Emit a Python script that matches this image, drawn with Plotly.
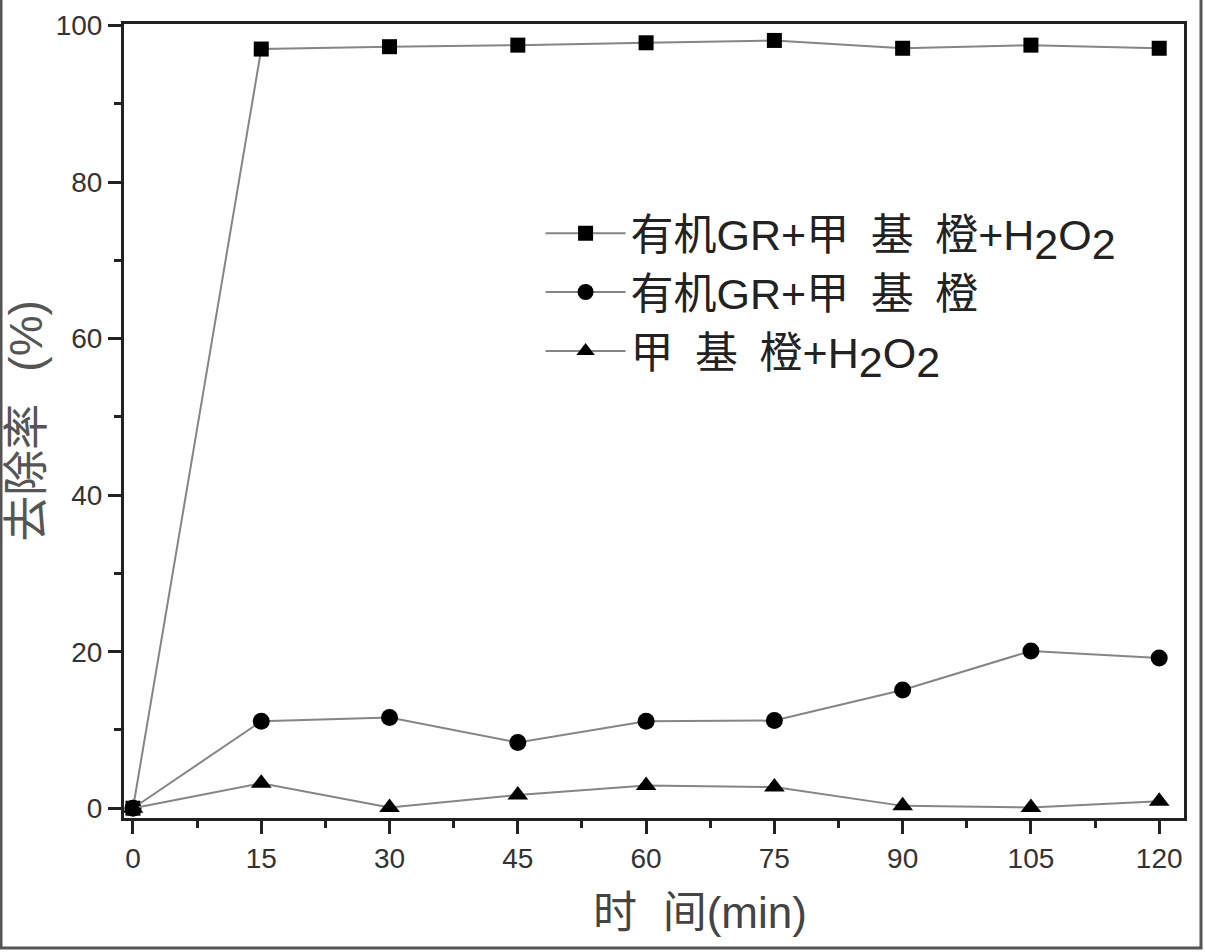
import plotly.graph_objects as go

times = [0, 15, 30, 45, 60, 75, 90, 105, 120]
gr_mo_h2o2 = [0, 97.0, 97.3, 97.5, 97.8, 98.1, 97.1, 97.5, 97.1]
gr_mo = [0, 11.1, 11.6, 8.4, 11.1, 11.2, 15.1, 20.1, 19.2]
mo_h2o2 = [0, 3.2, 0.1, 1.7, 2.9, 2.7, 0.3, 0.1, 0.9]

LEG_FS = 43
SUB2 = f"<sub><span style='font-size:{LEG_FS}px'>2</span></sub>"
names = [
    "有机GR+甲\u2002基\u2002橙+H" + SUB2 + "O" + SUB2,
    "有机GR+甲\u2002基\u2002橙",
    "甲\u2002基\u2002橙+H" + SUB2 + "O" + SUB2,
]
symbols = ["square", "circle", "triangle-up"]
sizes = [15, 17, 18]
series = [gr_mo_h2o2, gr_mo, mo_h2o2]

FONT = "Liberation Sans, Arial, Noto Sans CJK SC, sans-serif"

fig = go.Figure()
for nm, sym, sz, ys in zip(names, symbols, sizes, series):
    fig.add_trace(go.Scatter(
        x=times, y=ys, name=nm, mode="lines+markers",
        line=dict(color="#858585", width=2),
        marker=dict(symbol=sym, size=sz, color="black"),
    ))

W, H = 1205, 952
L, R, T, B = 124, 21, 24, 134
pw, ph = W - L - R, H - T - B

axis_common = dict(
    showline=True, linecolor="#222", linewidth=3, mirror=True,
    ticks="outside", ticklen=13, tickwidth=3, tickcolor="#222",
    showgrid=False, zeroline=False, automargin=False,
    tickfont=dict(family=FONT, size=28, color="#333"),
)

fig.update_layout(
    width=W, height=H,
    margin=dict(l=L, r=R, t=T, b=B),
    paper_bgcolor="white", plot_bgcolor="white",
    font=dict(family=FONT, color="#222"),
    xaxis=dict(
        range=[-1.05, 122.9], tickvals=times,
        minor=dict(dtick=7.5, tick0=0, ticks="outside", ticklen=7, tickwidth=3, tickcolor="#222"),
        **axis_common,
    ),
    yaxis=dict(
        range=[-1.25, 100.2], tickvals=[0, 20, 40, 60, 80, 100],
        minor=dict(dtick=10, tick0=0, ticks="outside", ticklen=7, tickwidth=3, tickcolor="#222"),
        title=dict(text="去除率\u2002\u2009(%)", font=dict(family=FONT, size=46, color="#555"), standoff=8),
        **axis_common,
    ),
    legend=dict(
        x=0.393, y=0.78, xanchor="left", yanchor="top",
        bgcolor="rgba(0,0,0,0)", borderwidth=0,
        font=dict(family=FONT, size=LEG_FS, color="#222"),
        itemwidth=80,
        tracegroupgap=0,
    ),
    showlegend=True,
)

# x-axis title placed as in the original (slightly right of centre)
fig.add_annotation(
    text="时\u2002\u200a间(min)", xref="paper", yref="paper",
    x=(700 - L) / pw, y=-(912 - (H - B)) / ph, xanchor="center", yanchor="middle",
    showarrow=False, font=dict(family=FONT, size=44, color="#444"),
)

# thin border of the original picture
x0 = -(L - 1) / pw
x1 = (1201 - L) / pw
yb = -(948 - (H - B)) / ph
yt = (H - B) / ph
fig.add_shape(type="path", xref="paper", yref="paper",
              path=f"M {x0} {yt} L {x0} {yb} L {x1} {yb} L {x1} {yt}",
              line=dict(color="#555", width=3))

fig.write_html("out.html", config={"displayModeBar": False},
               post_script="document.body.style.margin='0';")
